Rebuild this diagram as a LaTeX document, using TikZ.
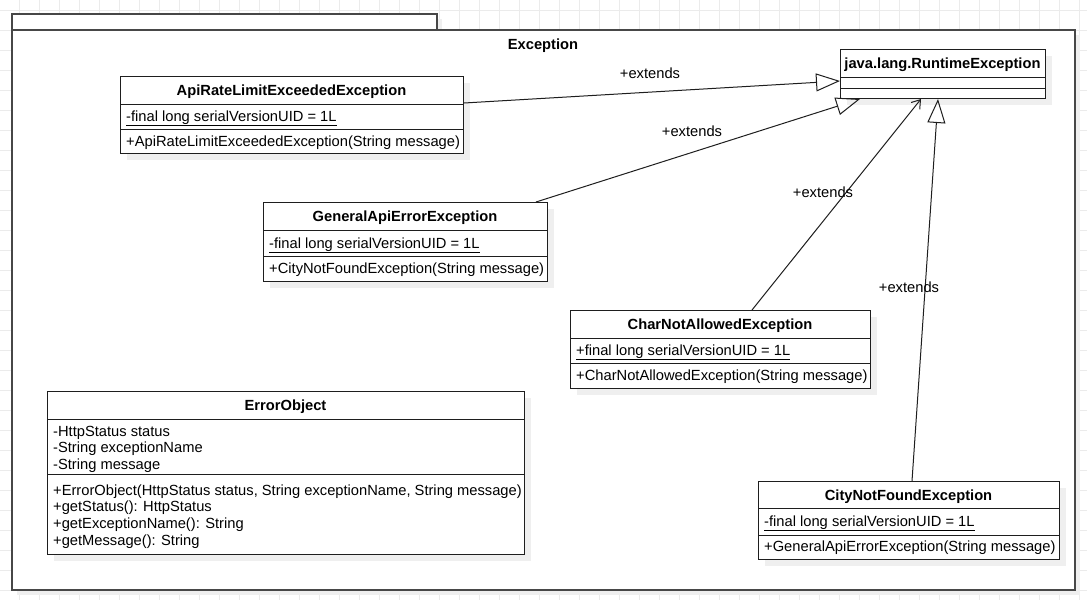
\documentclass[tikz,border=0pt]{standalone}
\usepackage{fontspec}
\setmainfont{Liberation Sans}
\usetikzlibrary{arrows.meta,calc}

\definecolor{gridcol}{HTML}{EBEBEB}
\definecolor{shadecol}{HTML}{EFEFEF}
\definecolor{linecol}{HTML}{1E1E1E}
\definecolor{pkgcol}{HTML}{474747}

\tikzset{
  txt/.style={inner sep=0pt, font=\fontsize{14.7}{16.6}\selectfont, text=black},
  hdr/.style={txt, anchor=base, font=\fontsize{14.7}{16.6}\selectfont\bfseries},
  row/.style={txt, anchor=base west},
  rows/.style={txt, anchor=north west, align=left},
  lbl/.style={txt, anchor=base},
  umlbox/.style={draw=linecol, line width=1pt, fill=white, anchor=north west,
    inner sep=0pt,
    preaction={fill=shadecol, draw=none, transform canvas={shift={(6pt,-6pt)}}}},
  sep/.style={draw=linecol, line width=1pt},
  gridline/.style={draw=gridcol, line width=0.8pt},
  pkgbox/.style={draw=pkgcol, line width=1.5pt, fill=white, anchor=north west,
    inner sep=0pt,
    preaction={fill=shadecol, draw=none, transform canvas={shift={(5pt,-5pt)}}}},
  ext/.style={draw=linecol, line width=1pt, -{Triangle[open,length=24pt,width=18pt]}},
  dep/.style={draw=linecol, line width=1pt, -{Straight Barb[length=8pt,width=11pt]}},
}

\begin{document}
\begin{tikzpicture}[x=1pt,y=-1pt]
\useasboundingbox (0,0) rectangle (1087,600);

% background grid
\foreach \gx in {19,39,...,1079} \draw[gridline] (\gx,0) -- (\gx,600);
\foreach \gy in {10,30,...,590} \draw[gridline] (0,\gy) -- (1087,\gy);

% package "Exception": tab and body
\node[pkgbox, minimum width=425, minimum height=16] (pkgtab) at (11,13) {};
\node[pkgbox, minimum width=1063, minimum height=560] (pkg) at (11,29) {};
\node[hdr] (pkgname) at (543,49) {Exception};

% java.lang.RuntimeException
\node[umlbox, minimum width=205, minimum height=49] (rt) at (840,49) {};
\draw[sep] ([yshift=-28.7pt]rt.north west) -- ([yshift=-28.7pt]rt.north east);
\draw[sep] ([yshift=-39.3pt]rt.north west) -- ([yshift=-39.3pt]rt.north east);
\node[hdr] (rt-h) at (942.5,68) {java.lang.RuntimeException};

% ApiRateLimitExceededException
\node[umlbox, minimum width=343, minimum height=77] (api) at (120,76) {};
\draw[sep] ([yshift=-28pt]api.north west) -- ([yshift=-28pt]api.north east);
\draw[sep] ([yshift=-53pt]api.north west) -- ([yshift=-53pt]api.north east);
\node[hdr] (api-h) at (291.5,95) {ApiRateLimitExceededException};
\node[row] (api-a) at (126,121) {\underline{-final long serialVersionUID = 1L}};
\node[row] (api-m) at (126,146) {+ApiRateLimitExceededException(String message)};

% GeneralApiErrorException
\node[umlbox, minimum width=284, minimum height=79] (gen) at (263,202) {};
\draw[sep] ([yshift=-28pt]gen.north west) -- ([yshift=-28pt]gen.north east);
\draw[sep] ([yshift=-54pt]gen.north west) -- ([yshift=-54pt]gen.north east);
\node[hdr] (gen-h) at (405,221) {GeneralApiErrorException};
\node[row] (gen-a) at (269,248) {\underline{-final long serialVersionUID = 1L}};
\node[row] (gen-m) at (269,273) {+CityNotFoundException(String message)};

% CharNotAllowedException
\node[umlbox, minimum width=300, minimum height=78] (chr) at (570,310) {};
\draw[sep] ([yshift=-28pt]chr.north west) -- ([yshift=-28pt]chr.north east);
\draw[sep] ([yshift=-53pt]chr.north west) -- ([yshift=-53pt]chr.north east);
\node[hdr] (chr-h) at (720,329) {CharNotAllowedException};
\node[row] (chr-a) at (576,355) {\underline{+final long serialVersionUID = 1L}};
\node[row] (chr-m) at (576,380) {+CharNotAllowedException(String message)};

% ErrorObject
\node[umlbox, minimum width=477, minimum height=163] (err) at (47,391) {};
\draw[sep] ([yshift=-28pt]err.north west) -- ([yshift=-28pt]err.north east);
\draw[sep] ([yshift=-83pt]err.north west) -- ([yshift=-83pt]err.north east);
\node[hdr] (err-h) at (285.5,410) {ErrorObject};
\node[rows] (err-a) at (53,425.6) {-HttpStatus status\\-String exceptionName\\-String message};
\node[rows] (err-m) at (53,484.4) {+ErrorObject(HttpStatus status, String exceptionName, String message)\\+getStatus(): HttpStatus\\+getExceptionName(): String\\+getMessage(): String};

% CityNotFoundException
\node[umlbox, minimum width=301, minimum height=78] (city) at (758,481) {};
\draw[sep] ([yshift=-27pt]city.north west) -- ([yshift=-27pt]city.north east);
\draw[sep] ([yshift=-54pt]city.north west) -- ([yshift=-54pt]city.north east);
\node[hdr] (city-h) at (908.5,500) {CityNotFoundException};
\node[row] (city-a) at (764,526) {\underline{-final long serialVersionUID = 1L}};
\node[row] (city-m) at (764,551) {+GeneralApiErrorException(String message)};

% connector end points on the class borders
\coordinate (api-out)  at ([yshift=-27pt]api.north east);
\coordinate (gen-out)  at ([xshift=273pt]gen.north west);
\coordinate (chr-out)  at ([xshift=182pt]chr.north west);
\coordinate (city-out) at ([xshift=154pt]city.north west);
\coordinate (rt-in1) at ([yshift=-32pt]rt.north west);
\coordinate (rt-in2) at ([xshift=20pt]rt.south west);
\coordinate (rt-in3) at ([xshift=81pt]rt.south west);
\coordinate (rt-in4) at ([xshift=98pt]rt.south west);

% inheritance connectors
\draw[ext] (api-out) -- (rt-in1);
\draw[ext] (gen-out) -- (rt-in2);
\draw[dep] (chr-out) -- (rt-in3);
\draw[ext] (city-out) -- (rt-in4);

% connector labels
\node[lbl] (l1) at (650,78) {+extends};
\node[lbl] (l2) at (692,136) {+extends};
\node[lbl] (l3) at (823,197) {+extends};
\node[lbl] (l4) at (909,292) {+extends};
\end{tikzpicture}
\end{document}
